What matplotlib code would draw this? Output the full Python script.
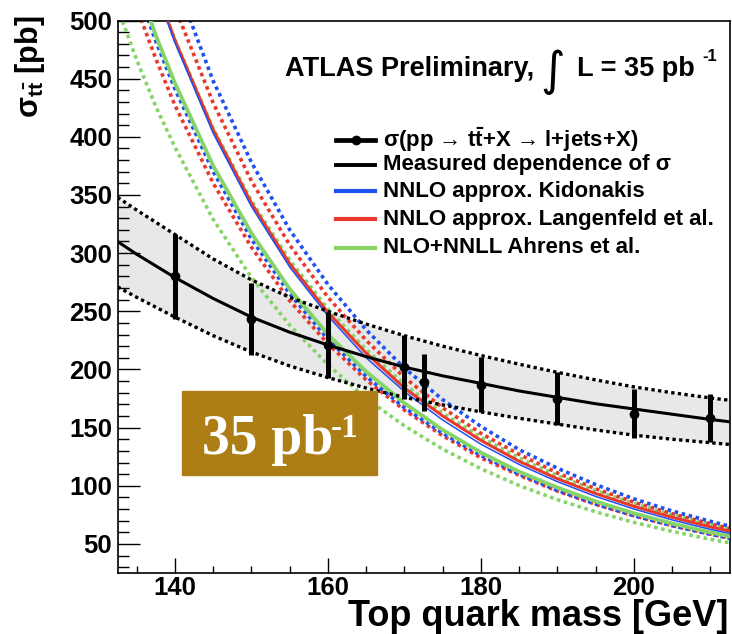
import matplotlib
matplotlib.use("Agg")
import matplotlib.pyplot as plt
from matplotlib.patches import Rectangle
from matplotlib.lines import Line2D
from matplotlib.ticker import MultipleLocator, FixedLocator

plt.rcParams['font.family'] = ['Liberation Sans', 'DejaVu Sans']
plt.rcParams['font.weight'] = 'bold'
plt.rcParams['mathtext.fontset'] = 'custom'
plt.rcParams['mathtext.rm'] = 'Liberation Sans:bold'
plt.rcParams['mathtext.bf'] = 'Liberation Sans:bold'
plt.rcParams['mathtext.it'] = 'Liberation Sans:bold:italic'
plt.rcParams['mathtext.sf'] = 'Liberation Sans:bold'

# ---------------- data ----------------
# measured cross sections (pb) vs assumed top mass (GeV)
meas_mass = [140, 150, 160, 170, 172.5, 180, 190, 200, 210]
meas_sigma = [280, 243, 221, 202, 189, 187, 175, 162, 158]
meas_err = [36.5, 31, 28.5, 27.5, 24.5, 24, 22.5, 21, 20.5]

# fitted mass dependence of the measurement with its uncertainty band
band_mass = [132.5, 135, 140, 145, 150, 155, 160, 165, 170, 175, 180,
             185, 190, 195, 200, 205, 210, 212.5]
band_mid = [310, 299, 279, 261, 245, 232, 221, 211, 202, 194.5, 188,
            181.5, 176, 170.5, 166, 161.5, 157, 155]
band_up = [348, 337, 316, 295, 277, 262, 250, 239, 229, 220, 212,
           204.5, 197.5, 191, 185, 180, 175.5, 173.5]
band_dn = [271, 262, 245, 229, 215, 203, 193, 184, 176, 169.5, 163.5,
           158, 153, 148, 143.5, 140, 137, 135.5]

# theory predictions (pb)
theory_mass = [132.5, 135, 137.5, 140, 145, 150, 155, 160, 165, 170, 175,
               180, 185, 190, 195, 200, 205, 210, 212.5]
kidonakis = [634, 577, 526, 481, 403, 340, 288, 246, 210, 181, 156.5,
             135.7, 118.3, 103.5, 90.8, 80.0, 70.6, 62.5, 59.0]
kidonakis_up = [706, 643, 586, 535, 448, 378, 320, 273, 234, 201, 174,
                151, 131, 115, 101, 88.7, 78.3, 69.4, 65.3]
kidonakis_dn = [580, 528, 482, 441, 370, 312, 265, 226, 194, 167, 145,
                126, 110, 96, 84.3, 74.3, 65.7, 58.3, 54.9]
langenfeld = [634, 578, 528, 483, 406, 343, 291, 249, 214, 184, 160,
              139, 121, 106, 93.3, 82.3, 72.8, 64.6, 60.9]
langenfeld_up = [673, 613, 559, 511, 429, 362, 307, 262, 225, 193, 167,
                 145, 127, 111, 97.4, 85.9, 75.9, 67.3, 63.4]
langenfeld_dn = [560, 511, 467, 427, 360, 305, 259, 222, 191, 165, 143,
                 124, 109, 95.4, 84.0, 74.2, 65.7, 58.4, 55.1]
ahrens = [585, 534, 487, 446, 375, 317, 269, 230, 198, 171, 148,
          128.5, 112, 98.4, 86.5, 76.3, 67.5, 59.9, 56.5]
ahrens_up = [632, 577, 527, 483, 407, 345, 294, 252, 217, 187, 162.5,
             141.6, 123.9, 108.8, 95.9, 84.7, 75.1, 66.8, 63.0]
ahrens_dn = [511, 466, 426, 391, 329, 279, 238, 204, 175, 151.5, 131.5,
             114.6, 100.2, 88.0, 77.6, 68.5, 60.8, 54.0, 51.0]

x_ticks = [140, 160, 180, 200]
y_ticks = [50, 100, 150, 200, 250, 300, 350, 400, 450, 500]

legend_labels = [
    'σ(pp → t$\\bar{\\rm t}$+X → l+jets+X)',
    'Measured dependence of σ',
    'NNLO approx. Kidonakis',
    'NNLO approx. Langenfeld et al.',
    'NLO+NNLL Ahrens et al.',
]

BLUE = '#1f50f0'
RED = '#e8392c'
GREEN = '#86d468'
DOT = (0, (1, 1))

# ---------------- figure ----------------
W, H = 732, 634
fig = plt.figure(figsize=(W / 100, H / 100), dpi=100)
ax = fig.add_axes([117.6 / W, 1 - 573 / H, (729.6 - 117.6) / W, (573 - 20.5) / H])
ax.set_xlim(132.5, 212.5)
ax.set_ylim(25, 500)

# uncertainty band of the measured dependence
ax.fill_between(band_mass, band_dn, band_up, color='#e8e8e8', lw=0, zorder=1)

# theory bands (dotted edges) and central values (solid)
for up, dn, col in [(ahrens_up, ahrens_dn, GREEN),
                    (langenfeld_up, langenfeld_dn, RED),
                    (kidonakis_up, kidonakis_dn, BLUE)]:
    ax.plot(theory_mass, up, color=col, lw=2.6, ls=DOT, zorder=2)
    ax.plot(theory_mass, dn, color=col, lw=2.6, ls=DOT, zorder=2)
ax.plot(theory_mass, ahrens, color=GREEN, lw=2.8, zorder=3)
ax.plot(theory_mass, langenfeld, color=RED, lw=2.2, zorder=3)
ax.plot(theory_mass, kidonakis, color=BLUE, lw=1.1, zorder=3)

# measured dependence
ax.plot(band_mass, band_up, color='k', lw=2.4, ls=DOT, zorder=4)
ax.plot(band_mass, band_dn, color='k', lw=2.4, ls=DOT, zorder=4)
ax.plot(band_mass, band_mid, color='k', lw=2.2, zorder=4)

# measured points
ax.errorbar(meas_mass, meas_sigma, yerr=meas_err, fmt='o', color='k',
            ms=6, elinewidth=3.6, capsize=0, zorder=5)

# axes styling
for s in ax.spines.values():
    s.set_linewidth(1.2)
ax.xaxis.set_major_locator(FixedLocator(x_ticks))
ax.xaxis.set_minor_locator(MultipleLocator(5))
ax.yaxis.set_major_locator(FixedLocator(y_ticks))
ax.yaxis.set_minor_locator(MultipleLocator(10))
ax.tick_params(axis='x', which='major', direction='in', length=10.5, width=1,
               labelsize=18.5, pad=2)
ax.tick_params(axis='x', which='minor', direction='in', length=5.2, width=1)
ax.tick_params(axis='y', which='major', direction='in', length=16, width=1,
               labelsize=18.5, pad=4)
ax.tick_params(axis='y', which='minor', direction='in', length=8, width=1)
for lab in ax.get_xticklabels() + ax.get_yticklabels():
    lab.set_fontweight('bold')

# axis titles
fig.text(728 / W, 1 - 626.5 / H, 'Top quark mass [GeV]', ha='right',
         va='baseline', fontsize=26, fontweight='bold')
fig.text(30 / W, 1 - 16 / H, 'σ$_{\\rm t\\bar{\\rm t}}$ [pb]', rotation=90,
         ha='center', va='top', fontsize=22, fontweight='bold')

# experiment label
fig.text(285 / W, 1 - 76 / H, 'ATLAS Preliminary,', ha='left', va='baseline',
         fontsize=19.5, fontweight='bold')
fig.text(553 / W, 1 - 72 / H, '∫', ha='center', va='center', fontsize=34,
         fontweight='normal', family='DejaVu Sans')
fig.text(577 / W, 1 - 76 / H, 'L = 35 pb', ha='left', va='baseline',
         fontsize=19.5, fontweight='bold')
fig.text(702 / W, 1 - 61 / H, '-1', ha='left', va='baseline',
         fontsize=12, fontweight='bold')

# legend
rows_y = [140, 165, 191, 219, 247.5]
styles = [dict(color='k', lw=3.4, marker='o', ms=6),
          dict(color='k', lw=2.8),
          dict(color=BLUE, lw=3.0),
          dict(color=RED, lw=3.0),
          dict(color=GREEN, lw=3.0)]
for y, st, lab in zip(rows_y, styles, legend_labels):
    fy = 1 - y / H
    marker = st.pop('marker', None)
    ms = st.pop('ms', None)
    fig.add_artist(Line2D([336 / W, 375 / W], [fy, fy],
                          transform=fig.transFigure, **st))
    if marker:
        fig.add_artist(Line2D([355.5 / W], [fy], marker=marker, ms=ms,
                              color='k', transform=fig.transFigure))
    fig.text(383 / W, fy, lab, ha='left', va='center', fontsize=16,
             fontweight='bold')

# luminosity tag
fig.add_artist(Rectangle((181.7 / W, 1 - 475 / H), (376.7 - 181.7) / W,
                         (475 - 391) / H, transform=fig.transFigure,
                         color='#ad7e15', zorder=10))
fig.text(201.7 / W, 1 - 454 / H, '35 pb', ha='left', va='baseline',
         fontsize=40, fontweight='bold', family='Liberation Serif',
         color='white', zorder=11)
fig.text(331 / W, 1 - 437 / H, '-1', ha='left', va='baseline',
         fontsize=24, fontweight='bold', family='Liberation Serif',
         color='white', zorder=11)

fig.savefig('out.png', dpi=100)
